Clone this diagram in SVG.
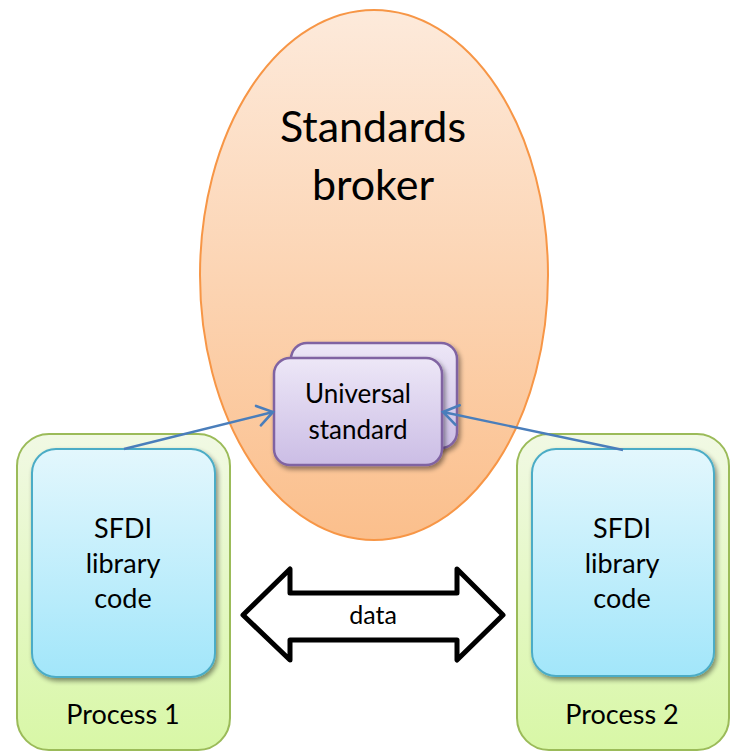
<svg xmlns="http://www.w3.org/2000/svg" width="734" height="752" viewBox="0 0 734 752">
  <defs>
    <linearGradient id="gBroker" x1="0" y1="0" x2="0" y2="1">
      <stop offset="0" stop-color="#fdeadb"/>
      <stop offset="1" stop-color="#fbbf8c"/>
    </linearGradient>
    <linearGradient id="gStd" x1="0" y1="0" x2="0" y2="1">
      <stop offset="0" stop-color="#ede7f7"/>
      <stop offset="1" stop-color="#cbbde5"/>
    </linearGradient>
    <linearGradient id="gProc" x1="0" y1="0" x2="0" y2="1">
      <stop offset="0" stop-color="#f1f9e4"/>
      <stop offset="1" stop-color="#d8f7a6"/>
    </linearGradient>
    <linearGradient id="gLib" x1="0" y1="0" x2="0" y2="1">
      <stop offset="0" stop-color="#e3f7fd"/>
      <stop offset="1" stop-color="#a2e6fa"/>
    </linearGradient>
    <filter id="shadow" x="-20%" y="-20%" width="140%" height="140%">
      <feGaussianBlur in="SourceAlpha" stdDeviation="2.5"/>
      <feOffset dx="1.5" dy="3" result="b"/>
      <feComponentTransfer><feFuncA type="linear" slope="0.45"/></feComponentTransfer>
      <feMerge><feMergeNode/><feMergeNode in="SourceGraphic"/></feMerge>
    </filter>
    <marker id="open" markerWidth="26" markerHeight="26" refX="18" refY="13" orient="auto" markerUnits="userSpaceOnUse">
      <path d="M3,3 L18,13 L3,23" fill="none" stroke="#4a7ebb" stroke-width="2.6" stroke-linecap="round"/>
    </marker>
  </defs>
  <style>
    text { font-family: Lato, "Open Sans", "Liberation Sans", sans-serif; fill: #000; text-anchor: middle; }
    .title { font-size: 43px; }
    .lbl { font-size: 27px; }
    .std { font-size: 26px; }
    .data { font-size: 25px; }
    .proc { fill: url(#gProc); stroke: #9bbb59; stroke-width: 2; }
    .lib { fill: url(#gLib); stroke: #4bacc6; stroke-width: 2; }
    .card { fill: url(#gStd); stroke: #8064a2; stroke-width: 2.5; }
    .link { fill: none; stroke: #4a7ebb; stroke-width: 2.4; }
  </style>

  <rect width="734" height="752" fill="#ffffff"/>

  <!-- broker ellipse with its title -->
  <g id="broker">
    <ellipse cx="374" cy="275" rx="174" ry="265" fill="url(#gBroker)" stroke="#f79646" stroke-width="2"/>
    <text class="title" x="373" y="142">Standards</text>
    <text class="title" x="373" y="200">broker</text>
  </g>

  <!-- stacked universal standard cards -->
  <g id="universal-standard">
    <rect class="card" x="291" y="343" width="166" height="105" rx="16" filter="url(#shadow)"/>
    <rect class="card" x="274" y="358" width="168" height="107" rx="16" filter="url(#shadow)"/>
    <text class="std" x="358" y="403">Universal</text>
    <text class="std" x="358" y="439">standard</text>
  </g>

  <!-- process 1 -->
  <g id="process1">
    <rect class="proc" x="17" y="434" width="213" height="316" rx="32"/>
    <rect class="lib" x="32" y="449" width="183" height="228" rx="24" filter="url(#shadow)"/>
    <text class="lbl" x="123" y="538">SFDI</text>
    <text class="lbl" x="123" y="573">library</text>
    <text class="lbl" x="123" y="608">code</text>
    <text class="lbl" x="123" y="724">Process 1</text>
  </g>

  <!-- process 2 -->
  <g id="process2">
    <rect class="proc" x="517" y="434" width="212" height="316" rx="32"/>
    <rect class="lib" x="532" y="449" width="182" height="227" rx="24" filter="url(#shadow)"/>
    <text class="lbl" x="622" y="538">SFDI</text>
    <text class="lbl" x="622" y="573">library</text>
    <text class="lbl" x="622" y="608">code</text>
    <text class="lbl" x="622" y="724">Process 2</text>
  </g>

  <!-- data exchange arrow -->
  <g id="data">
    <polygon points="243,615 290,569 290,593 457,593 457,569 503,615 457,660 457,640 290,640 290,660" fill="#ffffff" stroke="#000000" stroke-width="5" stroke-linejoin="round"/>
    <text class="data" x="373" y="624">data</text>
  </g>

  <!-- connectors -->
  <g id="connectors">
    <line class="link" x1="124" y1="449" x2="273" y2="412" marker-end="url(#open)"/>
    <line class="link" x1="623" y1="450" x2="443" y2="412" marker-end="url(#open)"/>
  </g>
</svg>
